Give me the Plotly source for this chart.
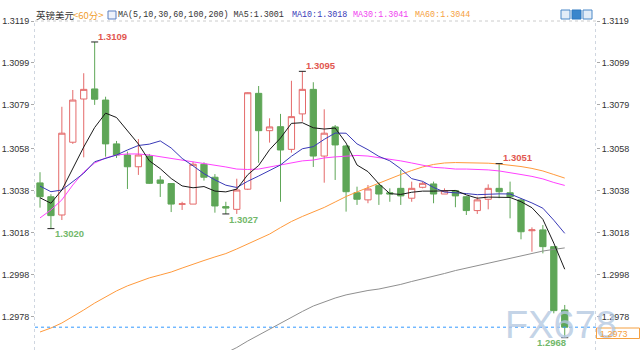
import plotly.graph_objects as go
import pandas as pd

# ---------------- data ----------------
opens = [1.30418, 1.30352, 1.30265, 1.30612, 1.30818, 1.30866, 1.30813, 1.30604, 1.30551, 1.30495,
         1.30546, 1.30432, 1.30415, 1.30316, 1.30317, 1.30507, 1.30445, 1.30305, 1.30292, 1.30388,
         1.30845, 1.30667, 1.30686, 1.30578, 1.30747, 1.30864, 1.30546, 1.30685, 1.30594, 1.30371,
         1.30337, 1.30405, 1.30371, 1.30392, 1.30345, 1.30397, 1.30413, 1.30365, 1.30381, 1.30352,
         1.30286, 1.30340, 1.30392, 1.30371, 1.30337, 1.30190, 1.30194, 1.30114, 1.29812]
highs = [1.30469, 1.30364, 1.30781, 1.30861, 1.30941, 1.31090, 1.30829, 1.30618, 1.30567, 1.30627,
         1.30556, 1.30451, 1.30416, 1.30328, 1.30519, 1.30516, 1.30460, 1.30328, 1.30438, 1.30850,
         1.30880, 1.30726, 1.30747, 1.30905, 1.30950, 1.30898, 1.30769, 1.30694, 1.30599, 1.30400,
         1.30408, 1.30419, 1.30392, 1.30480, 1.30424, 1.30424, 1.30424, 1.30392, 1.30384, 1.30356,
         1.30352, 1.30411, 1.30510, 1.30424, 1.30345, 1.30206, 1.30217, 1.30114, 1.29836]
lows = [1.30300, 1.30200, 1.30241, 1.30604, 1.30540, 1.30790, 1.30543, 1.30537, 1.30389, 1.30456,
        1.30413, 1.30351, 1.30279, 1.30289, 1.30317, 1.30429, 1.30276, 1.30270, 1.30270, 1.30384,
        1.30514, 1.30610, 1.30328, 1.30562, 1.30710, 1.30494, 1.30419, 1.30432, 1.30281, 1.30313,
        1.30321, 1.30313, 1.30328, 1.30313, 1.30328, 1.30392, 1.30321, 1.30365, 1.30302, 1.30265,
        1.30270, 1.30292, 1.30345, 1.30249, 1.30149, 1.30090, 1.30082, 1.29796, 1.29680]
closes = [1.30352, 1.30262, 1.30655, 1.30813, 1.30864, 1.30817, 1.30604, 1.30551, 1.30495, 1.30551,
          1.30416, 1.30416, 1.30317, 1.30318, 1.30507, 1.30445, 1.30308, 1.30298, 1.30384, 1.30848,
          1.30667, 1.30685, 1.30575, 1.30734, 1.30864, 1.30546, 1.30655, 1.30599, 1.30376, 1.30340,
          1.30389, 1.30365, 1.30365, 1.30356, 1.30392, 1.30416, 1.30365, 1.30381, 1.30356, 1.30286,
          1.30337, 1.30392, 1.30376, 1.30352, 1.30185, 1.30194, 1.30114, 1.29809, 1.29730]

# moving averages needing history before the first visible bar
ma5_head = [1.30347, 1.30321, 1.30384, 1.30489]
ma10_head = [1.30403, 1.30376, 1.30384, 1.30424, 1.30464, 1.30519, 1.30535, 1.30551, 1.30575]

ma30 = [1.30251, 1.30289, 1.30337, 1.30408, 1.30470, 1.30513, 1.30537, 1.30551, 1.30556, 1.30556,
        1.30551, 1.30543, 1.30535, 1.30527, 1.30519, 1.30512, 1.30503, 1.30494, 1.30484, 1.30482,
        1.30484, 1.30494, 1.30503, 1.30513, 1.30523, 1.30527, 1.30537, 1.30542, 1.30544, 1.30549,
        1.30546, 1.30539, 1.30532, 1.30523, 1.30513, 1.30501, 1.30492, 1.30489, 1.30484, 1.30484,
        1.30483, 1.30480, 1.30475, 1.30465, 1.30458, 1.30449, 1.30437, 1.30420, 1.30406]
ma60 = [1.29707, 1.29726, 1.29750, 1.29779, 1.29812, 1.29845, 1.29874, 1.29903, 1.29927, 1.29946,
        1.29965, 1.29979, 1.29993, 1.30012, 1.30031, 1.30048, 1.30065, 1.30081, 1.30103, 1.30127,
        1.30151, 1.30174, 1.30205, 1.30234, 1.30258, 1.30279, 1.30301, 1.30327, 1.30353, 1.30375,
        1.30396, 1.30418, 1.30437, 1.30458, 1.30477, 1.30494, 1.30506, 1.30513, 1.30515, 1.30515,
        1.30514, 1.30512, 1.30508, 1.30503, 1.30496, 1.30487, 1.30475, 1.30458, 1.30441]
ma100 = [None] * 17 + [
        1.29607, 1.29633, 1.29664, 1.29693, 1.29721, 1.29750, 1.29779, 1.29805, 1.29831, 1.29850,
        1.29869, 1.29884, 1.29896, 1.29905, 1.29912, 1.29922, 1.29934, 1.29948, 1.29960, 1.29972,
        1.29986, 1.30000, 1.30012, 1.30024, 1.30036, 1.30048, 1.30060, 1.30072, 1.30084, 1.30093,
        1.30101, 1.30108]

tick_labels = ["1.3119", "1.3099", "1.3079", "1.3058", "1.3038", "1.3018", "1.2998", "1.2978"]
tick_values = [float(t) for t in tick_labels]

# extreme markers (bar indices)
marks_high = [5, 24, 42]
marks_low = [1, 17, 48]

title_pair = "英镑美元"
title_period = "<60分>"

# ---------------- derived ----------------
x = list(range(len(closes)))
ma5 = pd.Series(closes).rolling(5).mean().tolist()
ma10 = pd.Series(closes).rolling(10).mean().tolist()
ma5[:len(ma5_head)] = ma5_head
ma10[:len(ma10_head)] = ma10_head

# ---------------- layout geometry ----------------
W, H = 640, 360
L, R, T, B = 35, 596, 20, 350
per_px = (tick_values[0] - tick_values[-1]) / 295.7
y_top = tick_values[0] + (21 - T) * per_px
y_bot = tick_values[0] - (B - 21) * per_px
x_range = [-0.457, 50.86]


def px(v):
    return (v - L) / (R - L)


def py(v):
    return (B - v) / (B - T)


RED = "#e46a6a"
GREEN = "#5ea657"
FONT = "Liberation Sans, Arial, sans-serif"
MONO = "Liberation Mono, monospace"

fig = go.Figure()
fig.add_trace(go.Candlestick(
    x=x, open=opens, high=highs, low=lows, close=closes,
    increasing=dict(line=dict(color=RED, width=1), fillcolor="white"),
    decreasing=dict(line=dict(color=GREEN, width=1), fillcolor=GREEN),
    whiskerwidth=0, showlegend=False, hoverinfo="skip",
))

for ys, col in [(ma100, "#8f8f8f"), (ma60, "#ff9a3c"), (ma30, "#ff40ff"),
                (ma10, "#3a3ab8"), (ma5, "#1a1a1a")]:
    fig.add_trace(go.Scatter(x=x, y=ys, mode="lines", line=dict(color=col, width=1),
                             showlegend=False, hoverinfo="skip", connectgaps=False))

# extreme markers
mx = list(marks_high) + list(marks_low)
my = [highs[i] for i in marks_high] + [lows[i] for i in marks_low]
fig.add_trace(go.Scatter(x=mx, y=my, mode="markers",
                         marker=dict(symbol="line-ew", size=5, line=dict(color="#222", width=1)),
                         showlegend=False, hoverinfo="skip"))

annotations = []
high_shift = {5: (1, 5), 24: (2, 6), 42: (2, 6)}
for i in marks_high:
    dx, dy = high_shift[i]
    annotations.append(dict(x=i, y=highs[i], xref="x", yref="y", text=f"{highs[i]:.4f}",
                            showarrow=False, xanchor="left", yanchor="middle", xshift=dx, yshift=dy,
                            font=dict(family=FONT, size=9.5, color="#e2574f", weight="bold")))
low_shift = {1: (2, -5, "left"), 17: (1, -6, "left"), 48: (3, -5, "right")}
for i in marks_low:
    dx, dy, anc = low_shift[i]
    annotations.append(dict(x=i, y=lows[i], xref="x", yref="y", text=f"{lows[i]:.4f}",
                            showarrow=False, xanchor=anc, yanchor="middle", xshift=dx, yshift=dy,
                            font=dict(family=FONT, size=9.5, color="#72b86a", weight="bold")))

# header
hy = py(15)
annotations += [
    dict(x=px(34), y=hy, xref="paper", yref="paper", text=title_pair, showarrow=False,
         xanchor="left", yanchor="middle", font=dict(family="Noto Sans CJK SC", size=9.5, color="#333")),
    dict(x=px(71), y=hy, xref="paper", yref="paper",
         text=title_period.replace("<", "&lt;").replace(">", "&gt;"),
         showarrow=False, xanchor="left", yanchor="middle",
         font=dict(family="Noto Sans CJK SC", size=9.5, color="#f0a030")),
    dict(x=px(116), y=hy, xref="paper", yref="paper",
         text=f"MA(5,10,30,60,100,200) MA5:{ma5[-1]:.4f}", showarrow=False,
         xanchor="left", yanchor="middle", font=dict(family=MONO, size=8.4, color="#333")),
    dict(x=px(289.5), y=hy, xref="paper", yref="paper", text=f"MA10:{ma10[-1]:.4f}", showarrow=False,
         xanchor="left", yanchor="middle", font=dict(family=MONO, size=8.4, color="#3a3ab8")),
    dict(x=px(351), y=hy, xref="paper", yref="paper", text=f"MA30:{ma30[-1]:.4f}", showarrow=False,
         xanchor="left", yanchor="middle", font=dict(family=MONO, size=8.4, color="#f040f0")),
    dict(x=px(413), y=hy, xref="paper", yref="paper", text=f"MA60:{ma60[-1]:.4f}", showarrow=False,
         xanchor="left", yanchor="middle", font=dict(family=MONO, size=8.4, color="#f5a040")),
    # watermark
    dict(x=px(561), y=py(325), xref="paper", yref="paper", text="FX678", showarrow=False,
         xanchor="center", yanchor="middle", font=dict(family=FONT, size=38, color="rgba(180,200,225,0.8)")),
    # current price tag
    dict(x=px(598), y=py(333.5), xref="paper", yref="paper", text=f"{closes[-1]:.4f}", showarrow=False,
         xanchor="left", yanchor="middle", font=dict(family=FONT, size=9, color="#f5a040")),
]

shapes = [
    # top dotted border
    dict(type="line", xref="paper", yref="paper", x0=0, x1=1, y0=py(21), y1=py(21),
         line=dict(color="#cccccc", width=1, dash="dot")),
    # axis lines
    dict(type="line", xref="paper", yref="paper", x0=px(34.5), x1=px(34.5), y0=0, y1=py(21),
         line=dict(color="#cfd6e0", width=1, dash="dot")),
    dict(type="line", xref="paper", yref="paper", x0=px(595.5), x1=px(595.5), y0=0, y1=py(21),
         line=dict(color="#cfd6e0", width=1, dash="dot")),
    # current price line
    dict(type="line", xref="paper", yref="y", x0=0, x1=1, y0=closes[-1], y1=closes[-1],
         line=dict(color="#3399ff", width=1, dash="dot")),
    dict(type="rect", xref="paper", yref="paper", x0=px(596.5), x1=px(639.5), y0=py(338.5), y1=py(328),
         line=dict(color="#f5a040", width=1), fillcolor="rgba(255,255,255,0)"),
    # toolbar icons
    dict(type="rect", xref="paper", yref="paper", x0=px(561), x1=px(570), y0=py(19), y1=py(10),
         line=dict(color="#4a88c8", width=1), fillcolor="#e3edf8"),
    dict(type="rect", xref="paper", yref="paper", x0=px(572), x1=px(581), y0=py(19), y1=py(10),
         line=dict(color="#2f78c0", width=1), fillcolor="#3a86cc"),
    dict(type="rect", xref="paper", yref="paper", x0=px(583), x1=px(592), y0=py(19), y1=py(10),
         line=dict(color="#4a88c8", width=1), fillcolor="#e3edf8"),
    # header icon
    dict(type="rect", xref="paper", yref="paper", x0=px(108), x1=px(116), y0=py(19), y1=py(11),
         line=dict(color="#5a7fc0", width=1), fillcolor="#eef2fb"),
]


def yaxis_cfg(side, **extra):
    d = dict(side=side, range=[y_bot, y_top], autorange=False, tickmode="array",
             tickvals=tick_values, ticktext=tick_labels,
             ticks="outside", ticklen=3, tickcolor="#aaaaaa", showgrid=False, zeroline=False,
             showline=False, automargin=False, ticklabelstandoff=0,
             tickfont=dict(family=FONT, size=9, color="#333"), fixedrange=True)
    d.update(extra)
    return d


fig.update_layout(
    width=W, height=H,
    margin=dict(l=L, r=W - R, t=T, b=H - B, pad=0, autoexpand=False),
    paper_bgcolor="white", plot_bgcolor="white",
    xaxis=dict(range=x_range, autorange=False, visible=False,
               rangeslider=dict(visible=False), fixedrange=True, automargin=False),
    yaxis=yaxis_cfg("left"),
    yaxis2=yaxis_cfg("right", overlaying="y"),
    boxgap=0.18,
    annotations=annotations, shapes=shapes,
    showlegend=False,
)
# invisible trace so the right axis is drawn
fig.add_trace(go.Scatter(x=[x[0]], y=[closes[0]], yaxis="y2", mode="markers",
                         marker=dict(opacity=0), showlegend=False, hoverinfo="skip"))

fig.write_html("out.html", config={"displayModeBar": False},
               post_script="document.body.style.margin='0';document.body.style.overflow='hidden';")
